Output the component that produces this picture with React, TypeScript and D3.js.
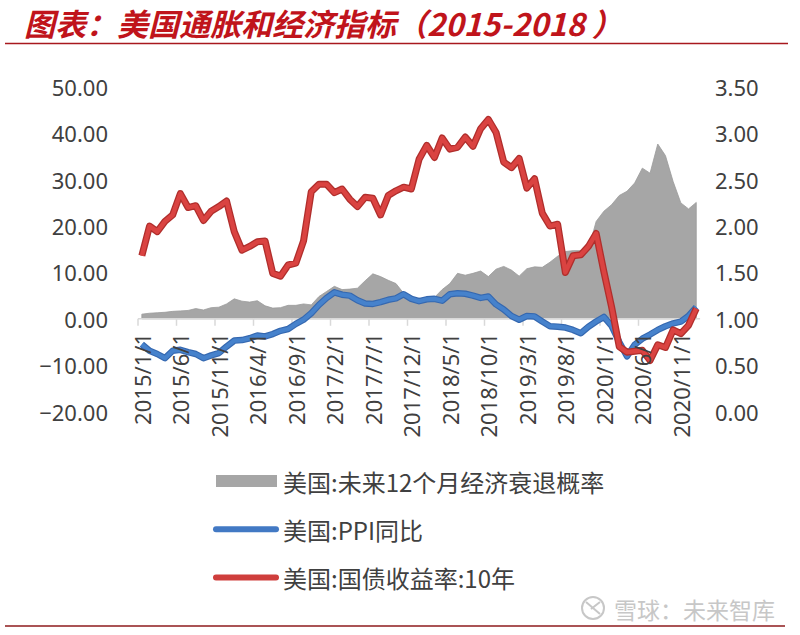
import React from 'react';
import * as d3 from 'd3';

// monthly categories 2015/1 .. 2021/1
const months = d3.timeMonth.range(new Date(2015, 0, 1), new Date(2021, 1, 1));

const xTickLabels = [
  '2015/1/1', '2015/6/1', '2015/11/1', '2016/4/1', '2016/9/1', '2017/2/1', '2017/7/1', '2017/12/1',
  '2018/5/1', '2018/10/1', '2019/3/1', '2019/8/1', '2020/1/1', '2020/6/1', '2020/11/1',
];
const leftTicks = [-20, -10, 0, 10, 20, 30, 40, 50];
const rightTicks = [0, 0.5, 1, 1.5, 2, 2.5, 3, 3.5];

// 美国:未来12个月经济衰退概率 (left axis)
const recession = [
  1.0, 1.2, 1.3, 1.4, 1.6, 1.7, 1.8, 2.2, 1.9, 2.4, 2.5, 3.2,
  4.3, 3.8, 3.6, 3.9, 2.8, 2.3, 2.4, 2.9, 2.9, 3.2, 3.0, 4.8,
  5.9, 7.0, 6.3, 6.4, 6.6, 8.2, 9.7, 9.1, 8.3, 7.6, 5.5, 4.5,
  4.1, 4.3, 4.6, 6.3, 7.6, 9.8, 9.4, 9.8, 10.3, 9.1, 10.7, 11.3,
  10.5, 9.2, 10.8, 11.2, 11.1, 12.2, 13.5, 14.5, 14.7, 14.7, 15.0, 21.0,
  23.2, 24.6, 26.6, 27.5, 29.3, 32.5, 31.4, 37.7, 35.2, 29.6, 25.0, 23.7, 25.1,
];

// 美国:PPI同比 (left axis)
const ppi = [
  -5.5, -6.9, -7.6, -8.5, -6.9, -6.7, -7.2, -7.6, -8.5, -7.9, -7.4, -6.0,
  -4.7, -4.6, -4.2, -3.6, -3.8, -3.3, -2.6, -2.2, -1.1, -0.2, 1.2, 3.0,
  4.5, 5.7, 5.2, 5.0, 4.0, 3.3, 3.2, 3.6, 4.1, 4.4, 5.3, 4.3,
  3.8, 4.2, 4.3, 3.9, 5.3, 5.5, 5.4, 5.0, 4.5, 4.8, 3.1, 2.0,
  0.6, -0.2, 0.6, 0.5, -0.6, -1.6, -1.7, -1.9, -2.4, -3.1, -1.7, -0.6,
  0.4, -1.5, -5.0, -8.1, -5.6, -4.3, -3.4, -2.4, -1.6, -1.0, -0.6, 0.6, 2.5,
];

// 美国:国债收益率:10年 (right axis)
const yield10 = [
  1.68, 2.0, 1.94, 2.05, 2.12, 2.35, 2.2, 2.22, 2.06, 2.16, 2.21, 2.27,
  1.94, 1.74, 1.78, 1.83, 1.84, 1.49, 1.46, 1.58, 1.6, 1.84, 2.37, 2.45,
  2.45, 2.36, 2.4, 2.29, 2.21, 2.31, 2.3, 2.12, 2.33, 2.38, 2.42, 2.4,
  2.72, 2.87, 2.74, 2.95, 2.83, 2.85, 2.96, 2.86, 3.05, 3.15, 3.01, 2.69,
  2.63, 2.73, 2.41, 2.51, 2.14, 2.0, 2.02, 1.5, 1.68, 1.69, 1.78, 1.92,
  1.51, 1.13, 0.7, 0.64, 0.65, 0.66, 0.55, 0.72, 0.69, 0.88, 0.84, 0.93, 1.11,
];

const legendItems = [
  { label: '美国:未来12个月经济衰退概率', kind: 'area' },
  { label: '美国:PPI同比', kind: 'blue' },
  { label: '美国:国债收益率:10年', kind: 'red' },
];

const axisFont = '"Noto Sans", "Open Sans", sans-serif';
const cjkFont = '"Noto Sans CJK SC", "Noto Sans", sans-serif';
const textColor = '#404040';

export default function App() {
  const n = months.length;
  const x = d3.scaleLinear().domain([0, n]).range([138, 138 + 7.7 * n]);
  const yL = d3.scaleLinear().domain([-20, 50]).range([411.5, 87]);
  const yR = d3.scaleLinear().domain([0, 3.5]).range([411.5, 87]);
  const cx = (i: number) => x(i + 0.5);

  const area = d3.area<number>()
    .x((_, i) => cx(i))
    .y0(yL(0))
    .y1((d) => yL(d));
  const lineL = d3.line<number>().x((_, i) => cx(i)).y((d) => yL(d));
  const lineR = d3.line<number>().x((_, i) => cx(i)).y((d) => yR(d));
  const fmt = d3.format('.2f');

  const tickIdx = d3.range(0, n, 5);

  return (
    <svg
      width={800}
      height={635}
      style={{ position: 'absolute', left: 0, top: 0, background: '#fff' }}
    >
      {/* title */}
      <text
        x={24}
        y={36}
        fill="#C0141B"
        fontFamily={cjkFont}
        fontWeight={700}
        fontStyle="italic"
        fontSize={31}
      >
        图表：美国通胀和经济指标（2015-2018 ）
      </text>
      <line x1={5} x2={788} y1={43.5} y2={43.5} stroke="#A8191E" strokeWidth={1.6} />

      {/* left axis labels */}
      {leftTicks.map((t) => (
        <text
          key={'l' + t}
          x={108}
          y={yL(t)}
          textAnchor="end"
          dominantBaseline="central"
          fontFamily={axisFont}
          fontSize={22}
          fill={textColor}
        >
          {fmt(t)}
        </text>
      ))}

      {/* right axis labels */}
      {rightTicks.map((t) => (
        <text
          key={'r' + t}
          x={715}
          y={yR(t)}
          dominantBaseline="central"
          fontFamily={axisFont}
          fontSize={22}
          fill={textColor}
        >
          {fmt(t)}
        </text>
      ))}

      {/* recession probability area */}
      <path d={area(recession) || ''} fill="#A6A6A6" stroke="#9A9A9A" strokeWidth={0.8} />

      {/* category axis */}
      <line x1={x(0)} x2={x(n)} y1={yL(0)} y2={yL(0)} stroke="#D9D9D9" strokeWidth={1.5} />
      {tickIdx.map((i) => (
        <line key={'t' + i} x1={x(i)} x2={x(i)} y1={yL(0)} y2={yL(0) + 7} stroke="#D9D9D9" strokeWidth={1.5} />
      ))}

      {/* PPI line */}
      <path d={lineL(ppi) || ''} fill="none" stroke="#3568B0" strokeWidth={6.5} strokeLinejoin="round" />
      <path d={lineL(ppi) || ''} fill="none" stroke="#4682CC" strokeWidth={4.2} strokeLinejoin="round" />

      {/* 10Y yield line */}
      <path d={lineR(yield10) || ''} fill="none" stroke="#B02E2C" strokeWidth={7} strokeLinejoin="round" />
      <path d={lineR(yield10) || ''} fill="none" stroke="#DA4341" strokeWidth={4.4} strokeLinejoin="round" />

      {/* x labels */}
      {tickIdx.map((i, k) => (
        <text
          key={'x' + i}
          transform={`translate(${cx(i)},333) rotate(-90)`}
          textAnchor="end"
          dominantBaseline="central"
          fontFamily={axisFont}
          fontSize={22}
          fill={textColor}
        >
          {xTickLabels[k]}
        </text>
      ))}

      {/* legend */}
      {legendItems.map((item, k) => {
        const cy = 481 + k * 48.3;
        return (
          <g key={item.label}>
            {item.kind === 'area' && <rect x={216} y={cy - 6} width={61} height={12} fill="#A6A6A6" />}
            {item.kind === 'blue' && (
              <line x1={216} x2={276} y1={cy} y2={cy} stroke="#4279C4" strokeWidth={6} strokeLinecap="round" />
            )}
            {item.kind === 'red' && (
              <line x1={216} x2={276} y1={cy} y2={cy} stroke="#CF3E3C" strokeWidth={6} strokeLinecap="round" />
            )}
            <text
              x={283}
              y={cy}
              dominantBaseline="central"
              fontFamily={cjkFont}
              fontSize={24}
              fill={textColor}
            >
              {item.label}
            </text>
          </g>
        );
      })}

      {/* watermark */}
      <g opacity={0.75}>
        <circle cx={593} cy={608} r={11} fill="none" stroke="#B5B5B5" strokeWidth={2} />
        <path d="M586,602 L600,614 M600,602 L591,609" stroke="#B5B5B5" strokeWidth={2} fill="none" />
        <text x={614} y={609} dominantBaseline="central" fontFamily={cjkFont} fontSize={23} fill="#B5B5B5">
          雪球：未来智库
        </text>
      </g>

      <line x1={5} x2={785} y1={626} y2={626} stroke="#8E1A1C" strokeWidth={1.6} />
    </svg>
  );
}
